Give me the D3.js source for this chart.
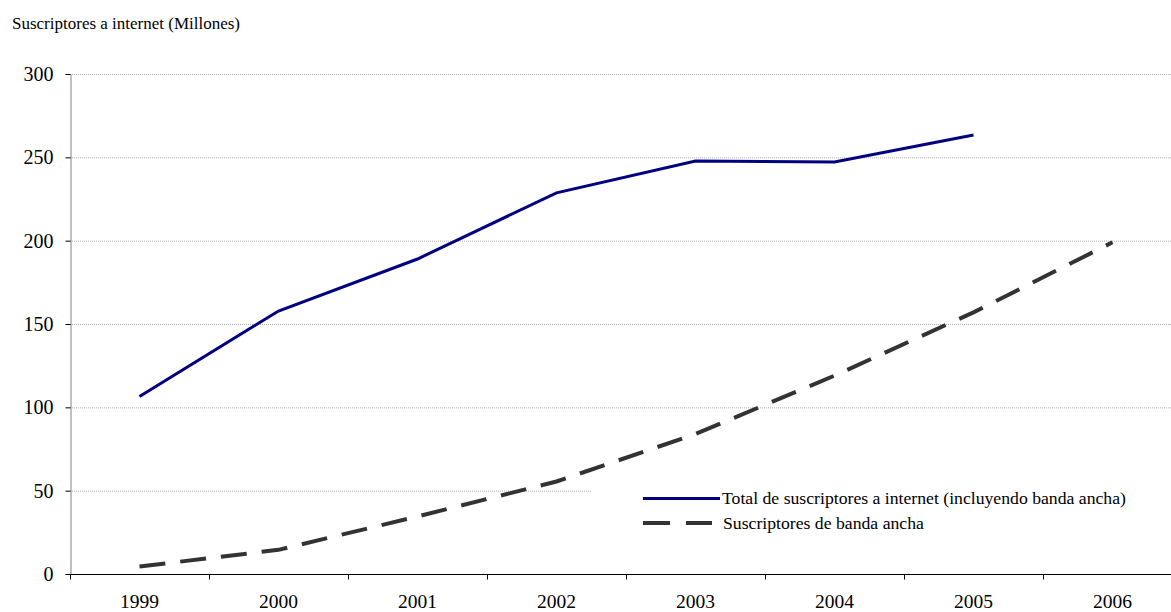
<!DOCTYPE html>
<html><head><meta charset="utf-8">
<script src="https://cdn.jsdelivr.net/npm/d3@7"></script>
<style>body{margin:0;background:#fff;overflow:hidden}</style>
</head><body>
<svg id="c" width="1171" height="612"></svg>
<script>
const years = ["1999","2000","2001","2002","2003","2004","2005","2006"];
const totalSubs = [106.5, 157.8, 189, 228.7, 247.8, 247.2, 263.4, null];
const broadband = [4.5, 14.5, 34.5, 55.5, 84, 119, 157, 199];
const yTicks = [0, 50, 100, 150, 200, 250, 300];
const seriesNames = ["Total de suscriptores a internet (incluyendo banda ancha)", "Suscriptores de banda ancha"];
const yTitle = "Suscriptores a internet (Millones)";

(function(){
const svg = d3.select("#c");
const font = "'Liberation Serif', 'Times New Roman', serif";
const mLeft = 70, mTop = 74, mBottom = 574, mRight = 70 + 8*139;
const x = d3.scaleBand().domain(years).range([mLeft, mRight]);
const y = d3.scaleLinear().domain([0, 300]).range([mBottom, mTop]);

// gridlines
svg.append("g").selectAll("line").data(yTicks.filter(d => d > 0)).join("line")
  .attr("x1", mLeft).attr("x2", 1171)
  .attr("y1", d => y(d)+0.5).attr("y2", d => y(d)+0.5)
  .attr("stroke", "#b0b0b0").attr("stroke-width", 1).attr("stroke-dasharray", "1,1");

// y axis
const ya = svg.append("g").attr("transform", `translate(${mLeft+0.5},0)`)
  .call(d3.axisLeft(y).tickValues(yTicks).tickSize(5).tickPadding(12));
ya.select(".domain").attr("stroke", "#808080").attr("stroke-width", 1);
ya.selectAll(".tick line").attr("stroke", "#000");
ya.selectAll(".tick text").attr("font-family", font).attr("font-size", 20).attr("fill", "#000");

// x axis
const xa = svg.append("g").attr("transform", `translate(0,${mBottom+0.5})`);
xa.append("line").attr("x1", mLeft).attr("x2", 1171).attr("stroke", "#000");
xa.selectAll("line.t").data(years).join("line").attr("class","t")
  .attr("x1", d => x(d)+0.5).attr("x2", d => x(d)+0.5).attr("y1", 0).attr("y2", 5).attr("stroke", "#000");
xa.selectAll("text").data(years).join("text")
  .attr("x", d => x(d) + x.bandwidth()/2).attr("y", 33)
  .attr("text-anchor", "middle").attr("font-family", font).attr("font-size", 19.5).text(d => d);

// title
svg.append("text").attr("x", 12).attr("y", 29).attr("font-family", font).attr("font-size", 17).text(yTitle);

// legend background
svg.append("rect").attr("x", 592).attr("y", 482).attr("width", 579).attr("height", 62).attr("fill", "#fff");

const line = d3.line().defined(d => d.v != null)
  .x(d => x(d.k) + x.bandwidth()/2).y(d => y(d.v));

svg.append("path").datum(years.map((k,i)=>({k, v: broadband[i]})))
  .attr("d", line).attr("fill", "none").attr("stroke", "#333333").attr("stroke-width", 4)
  .attr("stroke-dasharray", "26,15");
svg.append("path").datum(years.map((k,i)=>({k, v: totalSubs[i]})))
  .attr("d", line).attr("fill", "none").attr("stroke", "#000080").attr("stroke-width", 3);

// legend
const lg = svg.append("g");
lg.append("line").attr("x1", 643).attr("x2", 720).attr("y1", 498.5).attr("y2", 498.5).attr("stroke", "#000080").attr("stroke-width", 3);
lg.append("line").attr("x1", 643).attr("x2", 712).attr("y1", 523).attr("y2", 523).attr("stroke", "#333333").attr("stroke-width", 4).attr("stroke-dasharray", "27,16");
lg.append("text").attr("x", 722).attr("y", 504).attr("font-family", font).attr("font-size", 17.7).text(seriesNames[0]);
lg.append("text").attr("x", 723).attr("y", 528.5).attr("font-family", font).attr("font-size", 17.7).text(seriesNames[1]);
})();
</script>
</body></html>
